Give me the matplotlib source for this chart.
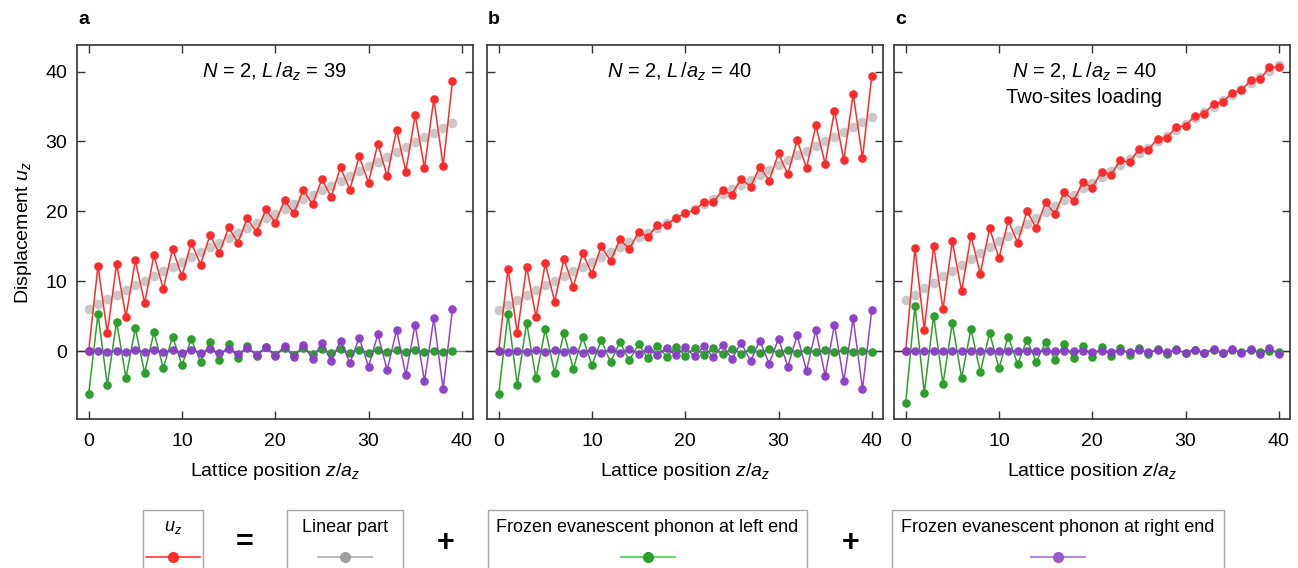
import numpy as np
import matplotlib.pyplot as plt
from matplotlib.patches import Rectangle

plt.rcParams['font.family'] = ['Liberation Sans', 'DejaVu Sans']
plt.rcParams['mathtext.fontset'] = 'custom'
plt.rcParams['mathtext.rm'] = 'Liberation Sans'
plt.rcParams['mathtext.it'] = 'Liberation Sans:italic'

# ---- data ----
z_a = np.arange(40)
z_bc = np.arange(41)

uz_a = [0.0, 12.2, 2.6, 12.5, 4.9, 13.0, 6.9, 13.7, 8.9, 14.6, 10.7, 15.5, 12.4, 16.6, 14.0,
        17.7, 15.5, 19.0, 17.0, 20.3, 18.4, 21.6, 19.7, 23.1, 21.0, 24.6, 22.1, 26.3, 23.1,
        27.9, 24.1, 29.7, 25.0, 31.7, 25.7, 33.8, 26.2, 36.1, 26.5, 38.6]
lin_a = [6.0, 6.7, 7.4, 8.0, 8.7, 9.4, 10.1, 10.8, 11.5, 12.1, 12.8, 13.5, 14.2, 14.9, 15.5,
         16.2, 16.9, 17.6, 18.3, 19.0, 19.6, 20.3, 21.0, 21.7, 22.4, 23.0, 23.7, 24.4, 25.1,
         25.8, 26.5, 27.1, 27.8, 28.5, 29.2, 29.9, 30.6, 31.2, 31.9, 32.6]
left_a = [-6.1, 5.3, -4.8, 4.2, -3.8, 3.3, -3.1, 2.7, -2.4, 2.1, -2.0, 1.7, -1.5, 1.3, -1.2,
          1.0, -1.0, 0.8, -0.75, 0.65, -0.6, 0.5, -0.5, 0.4, -0.4, 0.3, -0.3, 0.25, -0.25,
          0.2, -0.2, 0.15, -0.15, 0.12, -0.12, 0.1, -0.1, 0.08, -0.08, 0.06]
right_a = [-0.03, 0.04, -0.05, 0.06, -0.08, 0.1, -0.1, 0.12, -0.15, 0.15, -0.2, 0.2, -0.25,
           0.25, -0.3, 0.35, -0.4, 0.45, -0.5, 0.56, -0.7, 0.75, -0.9, 0.9, -1.1, 1.2, -1.4,
           1.5, -1.7, 1.9, -2.2, 2.4, -2.7, 3.0, -3.4, 3.8, -4.3, 4.7, -5.4, 6.0]

uz_b = [0.0, 11.8, 2.6, 12.1, 4.9, 12.6, 7.1, 13.2, 9.2, 14.0, 11.1, 15.0, 12.9, 16.0, 14.6,
        17.0, 16.4, 18.0, 18.0, 19.1, 19.7, 20.2, 21.3, 21.3, 23.0, 22.4, 24.7, 23.5, 26.4,
        24.4, 28.3, 25.3, 30.2, 26.2, 32.3, 26.8, 34.4, 27.3, 36.8, 27.6, 39.4]
lin_b = [5.9, 6.6, 7.3, 8.0, 8.7, 9.4, 10.0, 10.7, 11.4, 12.1, 12.8, 13.5, 14.2, 14.9, 15.6,
         16.3, 16.9, 17.6, 18.3, 19.0, 19.7, 20.4, 21.1, 21.8, 22.5, 23.2, 23.8, 24.5, 25.2,
         25.9, 26.6, 27.3, 28.0, 28.7, 29.4, 30.1, 30.7, 31.4, 32.1, 32.8, 33.5]
left_b = [-6.1, 5.3, -4.8, 4.1, -3.9, 3.2, -3.1, 2.6, -2.5, 2.0, -2.0, 1.6, -1.6, 1.3, -1.3,
          1.0, -1.0, 0.8, -0.8, 0.65, -0.65, 0.5, -0.55, 0.4, -0.45, 0.35, -0.35, 0.3, -0.3,
          0.25, -0.25, 0.2, -0.2, 0.15, -0.15, 0.12, -0.12, 0.1, -0.1, 0.08, -0.08]
right_b = [0.0, -0.06, 0.08, -0.1, 0.1, -0.12, 0.12, -0.15, 0.15, -0.2, 0.2, -0.25, 0.25,
           -0.3, 0.3, -0.4, 0.35, -0.5, 0.45, -0.6, 0.56, -0.75, 0.7, -0.9, 0.9, -1.1, 1.2,
           -1.4, 1.5, -1.8, 1.8, -2.2, 2.3, -2.8, 3.0, -3.5, 3.8, -4.3, 4.7, -5.4, 5.9]

uz_c = [0.0, 14.7, 3.1, 15.1, 6.0, 15.7, 8.6, 16.5, 11.1, 17.6, 13.3, 18.7, 15.5, 20.0, 17.6,
        21.3, 19.6, 22.8, 21.5, 24.2, 23.4, 25.7, 25.2, 27.3, 27.0, 28.9, 28.8, 30.4, 30.5,
        32.1, 32.2, 33.7, 34.0, 35.4, 35.6, 37.0, 37.3, 38.8, 38.9, 40.6, 40.6]
lin_c = [7.3, 8.1, 9.0, 9.8, 10.7, 11.5, 12.3, 13.2, 14.0, 14.9, 15.7, 16.5, 17.4, 18.2, 19.1,
         19.9, 20.7, 21.6, 22.4, 23.3, 24.1, 24.9, 25.8, 26.6, 27.5, 28.3, 29.1, 30.0, 30.8,
         31.7, 32.5, 33.3, 34.2, 35.0, 35.9, 36.7, 37.5, 38.4, 39.2, 40.1, 40.9]
left_c = [-7.4, 6.5, -6.0, 5.1, -4.7, 4.0, -3.8, 3.2, -3.0, 2.6, -2.4, 2.1, -1.9, 1.6, -1.5,
          1.3, -1.2, 1.0, -1.0, 0.8, -0.9, 0.6, -0.65, 0.5, -0.55, 0.4, -0.4, 0.3, -0.35,
          0.25, -0.3, 0.2, -0.25, 0.15, -0.2, 0.12, -0.15, 0.1, -0.12, 0.08, -0.1]
right_c = [0.0, 0.0, 0.0, 0.0, 0.0, 0.0, 0.0, 0.0, 0.0, 0.0, 0.0, 0.0, 0.0, 0.0, 0.0, 0.02,
           -0.03, 0.03, -0.04, 0.05, -0.06, 0.07, -0.08, 0.09, -0.1, 0.12, -0.13, 0.15, -0.17,
           0.19, -0.21, 0.23, -0.25, 0.27, -0.29, 0.31, -0.33, 0.35, -0.37, 0.39, -0.42]

panels = [
    ("a", z_a, uz_a, lin_a, left_a, right_a, ["$N$ = 2, $L\\,/a_z$ = 39"], 0.497),
    ("b", z_bc, uz_b, lin_b, left_b, right_b, ["$N$ = 2, $L\\,/a_z$ = 40"], 0.487),
    ("c", z_bc, uz_c, lin_c, left_c, right_c,
     ["$N$ = 2, $L\\,/a_z$ = 40", "Two-sites loading"], 0.48),
]

RED = '#ff2a2a'
GRAY = '#c8c8c8'
GREEN = '#2ca02c'
PURPLE = '#8a3cc8'

W, H = 1298, 568
fig = plt.figure(figsize=(W / 100, H / 100), dpi=100)

lefts = [77, 487, 894]
for (letter, z, uz, lin, lft, rgt, txt, tx), x0 in zip(panels, lefts):
    ax = fig.add_axes([x0 / W, 1 - 419 / H, 396 / W, 374 / H])
    ax.axhline(0, color='#808080', lw=1.0, zorder=1)
    ax.plot(z, lin, 'o', color=GRAY, ms=7, mec='none', zorder=2)
    ax.plot(z, uz, '-o', color=RED, lw=1.1, ms=6.2, mec='none', zorder=3)
    ax.plot(z, lft, '-o', color=GREEN, lw=1.1, ms=6.2, mec='none', zorder=4)
    ax.plot(z, rgt, '-o', color=PURPLE, lw=1.1, ms=6.2, mec='none', zorder=5, alpha=0.95)
    ax.set_xlim(-1.25, 41.2)
    ax.set_ylim(-9.7, 43.8)
    ax.set_xticks([0, 10, 20, 30, 40])
    ax.set_yticks([0, 10, 20, 30, 40])
    ax.tick_params(direction='in', top=True, right=True, length=6, width=1,
                   labelsize=14, color='#333333', pad=7)
    ax.tick_params(axis='x', pad=10)
    for s in ax.spines.values():
        s.set_color('#333333')
        s.set_linewidth(1.2)
    if letter != 'a':
        ax.set_yticklabels([])
    else:
        ax.set_ylabel('Displacement $u_z$', fontsize=14, labelpad=8)
    ax.set_xlabel('Lattice position $z/a_z$', fontsize=14, labelpad=8)
    for i, t in enumerate(txt):
        ax.text(tx, 0.928 - i * 0.068, t, transform=ax.transAxes, ha='center',
                va='center', fontsize=14.5)
    fig.text((x0 + 1) / W, 1 - 20 / H, letter, fontsize=14, fontweight='bold',
             ha='left', va='center')

# ---- legend strip at the bottom ----
lg = fig.add_axes([0, 0, 1, 1], zorder=-1)
lg.set_xlim(0, W)
lg.set_ylim(H, 0)
lg.axis('off')

boxes = [
    (143, 203, '$u_z$', RED, '#ff2020'),
    (287, 403, 'Linear part', '#a0a0a0', '#a8a8a8'),
    (488, 807, 'Frozen evanescent phonon at left end', GREEN, '#33cc33'),
    (892, 1224, 'Frozen evanescent phonon at right end', '#9a5ad0', '#a060d8'),
]
for xl, xr, label, mc, lc in boxes:
    lg.add_patch(Rectangle((xl, 510), xr - xl, 60, fill=False, ec='#a8a8a8', lw=1.0))
    xc = (xl + xr) / 2
    lg.text(xc, 528, label, ha='center', va='center', fontsize=13)
    lg.plot([xc - 27, xc + 27], [557, 557], '-', color=lc, lw=1.1)
    lg.plot([xc], [557], 'o', color=mc, ms=8, mec='none')

for x, s in [(245, '='), (446, '+'), (851, '+')]:
    lg.text(x, 543, s, ha='center', va='center', fontsize=22, fontweight='bold')

fig.savefig('out.png', dpi=100)
